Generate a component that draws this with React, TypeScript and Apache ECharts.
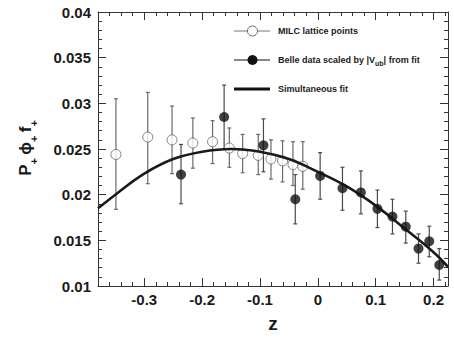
import React, { useEffect, useRef } from "react";
import * as echarts from "echarts";

// MILC lattice points
const milcZ = [-0.349, -0.294, -0.252, -0.216, -0.182, -0.153, -0.130, -0.103, -0.081, -0.061, -0.043, -0.026];
const milcY = [0.0244, 0.0263, 0.0260, 0.02565, 0.0258, 0.0251, 0.0245, 0.0243, 0.0239, 0.0237, 0.0233, 0.0231];
const milcHi = [0.0305, 0.0312, 0.0297, 0.0284, 0.0281, 0.0273, 0.0266, 0.0266, 0.0260, 0.0259, 0.0258, 0.0258];
const milcLo = [0.0184, 0.0212, 0.0223, 0.0229, 0.0234, 0.0230, 0.0224, 0.0222, 0.0217, 0.0214, 0.0210, 0.0206];

// Belle data scaled by |Vub|
const belleZ = [-0.2365, -0.162, -0.094, -0.039, 0.004, 0.0426, 0.0744, 0.103, 0.129, 0.152, 0.174, 0.1926, 0.2099];
const belleY = [0.0222, 0.0285, 0.0254, 0.0195, 0.02205, 0.0207, 0.02025, 0.01845, 0.0176, 0.0165, 0.0141, 0.0149, 0.0123];
const belleHi = [0.0255, 0.0320, 0.0283, 0.0222, 0.0246, 0.0230, 0.0226, 0.0205, 0.0195, 0.0182, 0.0157, 0.01655, 0.0141];
const belleLo = [0.0190, 0.0250, 0.0225, 0.0168, 0.0195, 0.0183, 0.0179, 0.0164, 0.0157, 0.0147, 0.0125, 0.0132, 0.01065];

// Simultaneous fit
const fitZ = [-0.38, -0.35, -0.30, -0.25, -0.20, -0.15, -0.10, -0.05, 0.0, 0.05, 0.10, 0.15, 0.20, 0.225];
const fitY = [0.0185, 0.0200, 0.0223, 0.0239, 0.0247, 0.0250, 0.0247, 0.0239, 0.0225, 0.0209, 0.0188, 0.0163, 0.0137, 0.0121];

const FONT = "'Liberation Sans', Arial, Helvetica, sans-serif";
const AX = "#333";

export default function App() {
  const ref = useRef<HTMLDivElement>(null);
  useEffect(() => {
    if (!ref.current) return;
    const chart = echarts.init(ref.current, null, { renderer: "svg" });

    const errRender = (color: string) => (params: any, api: any) => {
      const z = api.value(0);
      const lo = api.coord([z, api.value(1)]);
      const hi = api.coord([z, api.value(2)]);
      const c = 2;
      const st = { stroke: color, lineWidth: 1.2 };
      return {
        type: "group",
        children: [
          { type: "line", shape: { x1: lo[0], y1: lo[1], x2: hi[0], y2: hi[1] }, style: st },
          { type: "line", shape: { x1: lo[0] - c, y1: lo[1], x2: lo[0] + c, y2: lo[1] }, style: st },
          { type: "line", shape: { x1: hi[0] - c, y1: hi[1], x2: hi[0] + c, y2: hi[1] }, style: st },
        ],
      };
    };

    const xMin = -0.38, xMax = 0.225;
    const xMajor = (pos: string, labels: boolean) => ({
      type: "value", position: pos, min: xMin, max: xMax, splitNumber: 6,
      axisLine: { show: true, onZero: false, lineStyle: { color: AX, width: 1 } },
      axisTick: { show: true, inside: true, length: 8, lineStyle: { color: AX } },
      axisLabel: labels
        ? { show: true, margin: 6, color: "#1a1a1a", fontFamily: FONT, fontWeight: "bold", fontSize: 15, showMinLabel: false, showMaxLabel: false }
        : { show: false },
      splitLine: { show: false },
      ...(labels ? { name: "z", nameLocation: "middle", nameGap: 28, nameTextStyle: { fontFamily: FONT, fontWeight: "bold", fontSize: 19, color: "#1a1a1a" } } : {}),
    });
    const xMinor = (pos: string) => ({
      type: "value", position: pos, min: xMin, max: xMax, interval: 0.02,
      axisLine: { show: false, onZero: false },
      axisTick: { show: true, inside: true, length: 4, lineStyle: { color: AX } },
      axisLabel: { show: false },
      splitLine: { show: false },
    });
    const yAx = (pos: string, labels: boolean) => ({
      type: "value", position: pos, min: 0.01, max: 0.04, interval: 0.005,
      axisLine: { show: true, onZero: false, lineStyle: { color: AX, width: 1 } },
      axisTick: { show: true, inside: true, length: 8, lineStyle: { color: AX } },
      minorTick: { show: true, splitNumber: 5, length: 4, lineStyle: { color: AX } },
      axisLabel: labels
        ? { show: true, margin: 7, color: "#1a1a1a", fontFamily: FONT, fontWeight: "bold", fontSize: 15,
            formatter: (v: number) => String(Math.round(v * 1000) / 1000) }
        : { show: false },
      splitLine: { show: false },
    });

    const lx1 = 234, lx2 = 270, lcx = 252.5, ltx = 278;
    const legendText = { fontFamily: FONT, fontWeight: "bold", fontSize: 9, fill: "#1a1a1a" };

    chart.setOption({
      animation: false,
      grid: { left: 98, right: 6, top: 12, bottom: 48, containLabel: false },
      xAxis: [xMajor("bottom", true), xMinor("bottom"), xMajor("top", false), xMinor("top")],
      yAxis: [yAx("left", true), yAx("right", false)],
      series: [
        {
          type: "custom", name: "milcErr", xAxisIndex: 0, yAxisIndex: 0,
          renderItem: errRender("#6a6a6a"),
          data: milcZ.map((z, i) => [z, milcLo[i], milcHi[i]]),
          encode: { x: 0, y: [1, 2] }, z: 1,
        },
        {
          type: "custom", name: "belleErr", xAxisIndex: 0, yAxisIndex: 0,
          renderItem: errRender("#4a4a4a"),
          data: belleZ.map((z, i) => [z, belleLo[i], belleHi[i]]),
          encode: { x: 0, y: [1, 2] }, z: 1,
        },
        {
          type: "scatter", name: "MILC lattice points", symbol: "circle", symbolSize: 10,
          itemStyle: { color: "#fff", borderColor: "#666", borderWidth: 1 },
          data: milcZ.map((z, i) => [z, milcY[i]]), z: 2,
        },
        {
          type: "line", name: "Simultaneous fit", smooth: 0.4, showSymbol: false, symbol: "none",
          lineStyle: { color: "#1a1a1a", width: 2.6 },
          data: fitZ.map((z, i) => [z, fitY[i]]), z: 3,
        },
        {
          type: "scatter", name: "Belle", symbol: "circle", symbolSize: 10,
          itemStyle: { color: "#111" },
          data: belleZ.map((z, i) => [z, belleY[i]]), z: 4,
        },
      ],
      graphic: [
        {
          type: "text", x: 25, y: 148, rotation: Math.PI / 2,
          style: {
            text: "{m|P}{s|+} {m|ϕ}{s|+} {m|f}{s|+}",
            align: "center", verticalAlign: "middle",
            rich: {
              m: { fontFamily: FONT, fontWeight: "bold", fontSize: 17, fill: "#1a1a1a", lineHeight: 28, verticalAlign: "middle" },
              s: { fontFamily: FONT, fontWeight: "bold", fontSize: 11, fill: "#1a1a1a", verticalAlign: "bottom", lineHeight: 28 },
            },
          },
        },
        // legend: MILC
        { type: "line", shape: { x1: lx1, y1: 31, x2: lx2, y2: 31 }, style: { stroke: "#777", lineWidth: 1 } },
        { type: "circle", shape: { cx: lcx, cy: 31, r: 5 }, style: { fill: "#fff", stroke: "#666", lineWidth: 1 } },
        { type: "text", x: ltx, y: 31, style: { ...legendText, text: "MILC lattice points", verticalAlign: "middle" } },
        // legend: Belle
        { type: "line", shape: { x1: lx1, y1: 60, x2: lx2, y2: 60 }, style: { stroke: "#111", lineWidth: 1 } },
        { type: "circle", shape: { cx: lcx, cy: 60, r: 5 }, style: { fill: "#111" } },
        {
          type: "text", x: ltx, y: 60,
          style: {
            text: "{t|Belle data scaled by |V}{u|ub}{t|| from fit}",
            verticalAlign: "middle",
            rich: {
              t: { ...legendText, lineHeight: 14, verticalAlign: "middle" },
              u: { fontFamily: FONT, fontWeight: "bold", fontSize: 7, fill: "#1a1a1a", lineHeight: 14, verticalAlign: "bottom" },
            },
          },
        },
        // legend: fit
        { type: "line", shape: { x1: lx1, y1: 89, x2: lx2, y2: 89 }, style: { stroke: "#111", lineWidth: 3 } },
        { type: "text", x: ltx, y: 89, style: { ...legendText, text: "Simultaneous fit", verticalAlign: "middle" } },
      ],
    });
    return () => chart.dispose();
  }, []);
  return <div ref={ref} style={{ width: 454, height: 338, position: "absolute", left: 0, top: 0 }} />;
}
